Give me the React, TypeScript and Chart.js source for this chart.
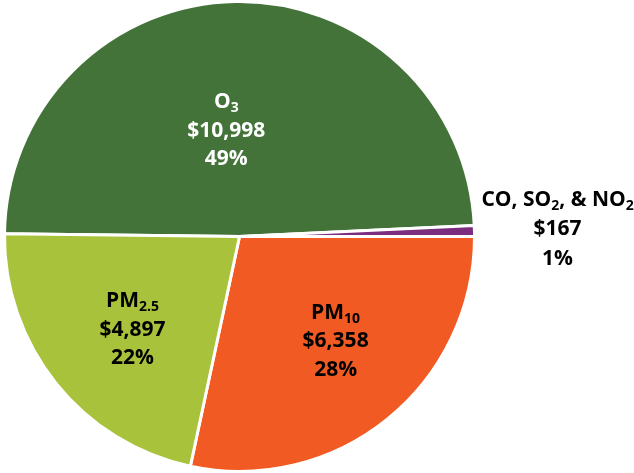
import React, { useEffect, useRef } from 'react';
import { Chart, registerables } from 'chart.js';

Chart.register(...registerables);

// Categories use _{...} markup for subscripts
const categories = ['O_{3}', 'CO, SO_{2}, & NO_{2}', 'PM_{10}', 'PM_{2.5}'];
const values = [10998, 167, 6358, 4897];
const colors = ['#44733A', '#7B2D7E', '#F15A22', '#A9C23B'];
const textColors = ['#FFFFFF', '#000000', '#000000', '#000000'];
// radial position of label as fraction of radius; negative => outside label
const labelRadius = [0.46, -1, 0.6, 0.6];
const labelAngleShift = [-6, 0, -4, -2];

const FONT_FAMILY = '"Open Sans", "DejaVu Sans", sans-serif';
const MAIN_SIZE = 21;
const SUB_SIZE = 14;

type Seg = { t: string; sub: boolean };

function parseLabel(s: string): Seg[] {
  const out: Seg[] = [];
  const re = /_\{([^}]*)\}/g;
  let last = 0;
  let m: RegExpExecArray | null;
  while ((m = re.exec(s))) {
    if (m.index > last) out.push({ t: s.slice(last, m.index), sub: false });
    out.push({ t: m[1], sub: true });
    last = m.index + m[0].length;
  }
  if (last < s.length) out.push({ t: s.slice(last), sub: false });
  return out;
}

const labelPlugin = {
  id: 'sliceLabels',
  afterDatasetsDraw(chart: any) {
    const ctx: CanvasRenderingContext2D = chart.ctx;
    const meta = chart.getDatasetMeta(0);
    const data: number[] = chart.data.datasets[0].data;
    const total = data.reduce((a, b) => a + b, 0);
    ctx.save();
    meta.data.forEach((arc: any, i: number) => {
      const { x, y, startAngle, endAngle, outerRadius } = arc.getProps(
        ['x', 'y', 'startAngle', 'endAngle', 'outerRadius'],
        true
      );
      const mid = (startAngle + endAngle) / 2 + (labelAngleShift[i] * Math.PI) / 180;
      const lines: Seg[][] = [
        parseLabel(categories[i]),
        [{ t: '$' + data[i].toLocaleString('en-US'), sub: false }],
        [{ t: Math.round((data[i] / total) * 100) + '%', sub: false }],
      ];
      const setFont = (sub: boolean) => {
        ctx.font = `bold ${sub ? SUB_SIZE : MAIN_SIZE}px ${FONT_FAMILY}`;
      };
      const widths = lines.map((segs) =>
        segs.reduce((w, s) => {
          setFont(s.sub);
          return w + ctx.measureText(s.t).width;
        }, 0)
      );
      const blockW = Math.max(...widths);
      let cx: number;
      let cy: number;
      let lineH = 28.5;
      if (labelRadius[i] >= 0) {
        cx = x + Math.cos(mid) * outerRadius * labelRadius[i];
        cy = y + Math.sin(mid) * outerRadius * labelRadius[i];
      } else {
        lineH = 29.5;
        const ex = x + Math.cos(mid) * (outerRadius + 7);
        cy = y + Math.sin(mid) * (outerRadius + 7) - 3;
        cx = ex + blockW / 2;
      }
      ctx.fillStyle = textColors[i];
      ctx.textBaseline = 'alphabetic';
      ctx.textAlign = 'left';
      const n = lines.length;
      lines.forEach((segs, li) => {
        const lineCenter = cy + (li - (n - 1) / 2) * lineH;
        const baseline = lineCenter + 7.5;
        let px = cx - widths[li] / 2;
        segs.forEach((s) => {
          setFont(s.sub);
          ctx.fillText(s.t, px, s.sub ? baseline + 4 : baseline);
          px += ctx.measureText(s.t).width;
        });
      });
    });
    ctx.restore();
  },
};

export default function App() {
  const canvasRef = useRef<HTMLCanvasElement | null>(null);

  useEffect(() => {
    const canvas = canvasRef.current;
    if (!canvas) return;
    const chart = new Chart(canvas, {
      type: 'pie',
      data: {
        labels: categories.map((c) => c.replace(/_\{([^}]*)\}/g, '$1')),
        datasets: [
          {
            data: values,
            backgroundColor: colors,
            borderColor: '#FFFFFF',
            borderWidth: 3,
          },
        ],
      },
      options: {
        responsive: false,
        animation: false,
        rotation: -89.3,
        layout: { padding: { left: 3, right: 158, top: 0, bottom: 0 } },
        plugins: {
          legend: { display: false },
          tooltip: { enabled: false },
        },
      },
      plugins: [labelPlugin],
    });
    return () => chart.destroy();
  }, []);

  return (
    <div style={{ position: 'absolute', left: 0, top: 0, width: 634, height: 473, background: '#FFFFFF' }}>
      <canvas ref={canvasRef} width={634} height={473} />
    </div>
  );
}
